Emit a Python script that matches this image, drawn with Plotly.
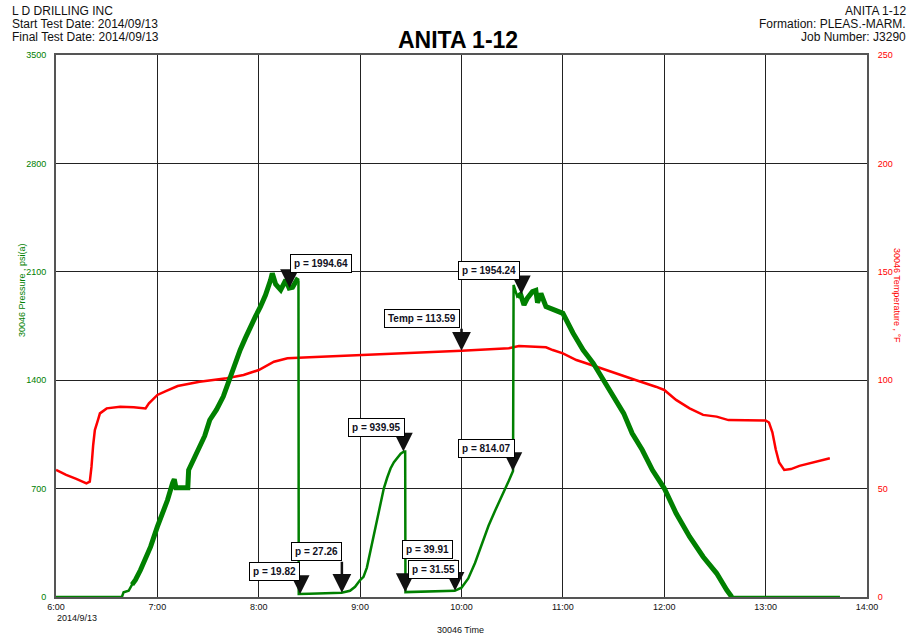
import plotly.graph_objects as go

DATE = "2014-09-13 "

# ---------------- data ----------------
pressure_time = [
    "06:00", "06:25", "06:39", "06:40", "06:43", "06:45", "06:47", "06:50", "06:53", "06:56",
    "07:00", "07:03", "07:06", "07:09", "07:10", "07:11", "07:18", "07:18:30", "07:21", "07:25",
    "07:28", "07:31", "07:35", "07:39", "07:43", "07:46", "07:49", "07:52", "07:55", "07:58",
    "08:01", "08:04", "08:07", "08:08", "08:10", "08:13", "08:16", "08:18", "08:20", "08:22:30",
    "08:23:30", "08:23:40", "08:30", "08:40", "08:49", "08:54", "08:57", "09:00", "09:02", "09:04",
    "09:06", "09:08", "09:10", "09:12", "09:14", "09:16", "09:18", "09:20", "09:22", "09:24",
    "09:26", "09:26:40", "09:26:50", "09:40", "09:56", "10:00", "10:04", "10:08", "10:12", "10:16",
    "10:20", "10:24", "10:28", "10:30:30", "10:30:50", "10:33", "10:35", "10:37", "10:39", "10:42",
    "10:44", "10:45", "10:47", "10:50", "10:55", "11:00", "11:06", "11:12", "11:18", "11:24",
    "11:30", "11:36", "11:41", "11:47", "11:53", "12:00", "12:07", "12:15", "12:23", "12:31",
    "12:37", "12:40", "13:44",
]
pressure_psi = [
    0, 0, 0, 30, 40, 80, 110, 174, 250, 325,
    454, 540, 626, 736, 760, 706, 706, 820, 880, 971,
    1040, 1143, 1210, 1294, 1423, 1500, 1595, 1670, 1746, 1810,
    1875, 1950, 2047, 2090, 2020, 1983, 2047, 1995, 2000, 2047,
    2040, 20, 21, 24, 27, 40, 66, 110, 130, 190,
    290, 400, 500, 610, 700, 770, 830, 870, 900, 925,
    940, 940, 31.5, 35, 40, 60, 120, 220, 340, 460,
    560, 650, 750, 814, 2015, 1940, 1954, 1886, 1930, 1972,
    1980, 1900, 1960, 1875, 1850, 1832, 1705, 1595, 1509, 1401,
    1294, 1186, 1057, 949, 820, 702, 541, 389, 260, 153,
    45, 0, 0,
]

temp_time = [
    "06:00", "06:06", "06:12", "06:18", "06:20", "06:21", "06:22", "06:23", "06:25", "06:26",
    "06:30", "06:38", "06:46", "06:53", "06:55", "06:57", "07:00", "07:05", "07:12", "07:25",
    "07:41", "07:51", "08:00", "08:09", "08:17", "08:30", "09:00", "09:30", "10:00", "10:28",
    "10:34", "10:50", "10:54", "11:00", "11:08", "11:20", "11:32", "11:43", "11:55", "12:00",
    "12:07", "12:15", "12:23", "12:31", "12:38", "12:50", "13:00", "13:02", "13:04", "13:06",
    "13:08", "13:11", "13:15", "13:20", "13:30", "13:38",
]
temp_f = [
    58.6, 56.3, 54.5, 52.4, 53.2, 60, 70, 77, 82, 84.7,
    87, 87.8, 87.5, 87, 89.3, 91, 93.2, 95, 97.3, 99.3,
    100.9, 102.4, 104.7, 108.5, 110.1, 110.6, 111.5, 112.6, 113.6, 114.7,
    115.8, 115.2, 113.9, 112.4, 109.3, 106.2, 103.2, 100.1, 97, 95.5,
    90.9, 87, 84, 83.2, 81.6, 81.6, 81.4, 80.5, 76, 68,
    62, 58.6, 59, 60.5, 62.5, 64,
]

# noisy (thick band) periods of the pressure record
noisy_periods = [("06:45", "08:23:30"), ("10:33", "12:40")]

# marker labels
p_label_time = ["08:18:12", "10:35:24", "09:25:36", "10:30:24", "08:49:12", "08:24:30", "09:56:12", "09:26:42"]
p_label_value = [1994.64, 1954.24, 939.95, 814.07, 27.26, 19.82, 39.91, 31.55]
t_label_time = ["10:00:00"]
t_label_value = [113.59]

x_tick_hours = ["06:00", "07:00", "08:00", "09:00", "10:00", "11:00", "12:00", "13:00", "14:00"]
x_tick_text = ["6:00", "7:00", "8:00", "9:00", "10:00", "11:00", "12:00", "13:00", "14:00"]
p_ticks = [0, 700, 1400, 2100, 2800, 3500]
t_ticks = [0, 50, 100, 150, 200, 250]


def norm(t):
    return t if t.count(":") == 2 else t + ":00"


def ts(t):
    return DATE + norm(t)


GREEN = "#008000"
RED = "#ff0000"
FONT = "Liberation Sans, Arial, sans-serif"
SMALL = "Liberation Sans, Arial, sans-serif"

fig = go.Figure()

# temperature (primary y, right side)
fig.add_trace(go.Scatter(
    x=[ts(t) for t in temp_time], y=temp_f, mode="lines",
    line=dict(color=RED, width=2.5), yaxis="y", hoverinfo="skip", showlegend=False))

# pressure (y2, left side, overlaying)
fig.add_trace(go.Scatter(
    x=[ts(t) for t in pressure_time], y=pressure_psi, mode="lines",
    line=dict(color=GREEN, width=2.5), yaxis="y2", hoverinfo="skip", showlegend=False))

thick_x, thick_y = [], []
for a, b in noisy_periods:
    for t, v in zip(pressure_time, pressure_psi):
        if norm(a) <= norm(t) <= norm(b):
            thick_x.append(ts(t))
            thick_y.append(v)
    thick_x.append(None)
    thick_y.append(None)
fig.add_trace(go.Scatter(
    x=thick_x, y=thick_y, mode="lines", connectgaps=False,
    line=dict(color=GREEN, width=5), yaxis="y2", hoverinfo="skip", showlegend=False))

# --------------- annotations ---------------
ann = []
# (arrow tail offset, box xanchor, box xshift, box yshift)
p_styles = [
    (-15, "left", 0, 15),
    (-14, "right", -1, 14),
    (-14, "right", 2, 14),
    (-13, "right", 2, 13),
    (-32, "right", 0, 32),
    (-13, "right", 0, 13),
    (-32, "right", -2, 32),
    (-13, "left", 3, 13),
]
t_styles = [(-23, "right", -2, 23)]


def add_marker(t, v, label, yref, style):
    ay, xa, xs, ys = style
    ann.append(dict(x=ts(t), y=v, xref="x", yref=yref, text=" ", showarrow=True,
                    ax=0, ay=ay, arrowhead=2, arrowsize=1.5, arrowwidth=2.5,
                    arrowcolor="#111111", standoff=0, startstandoff=0,
                    font=dict(size=1), borderpad=0))
    ann.append(dict(x=ts(t), y=v, xref="x", yref=yref, text="<b>" + label + "</b>",
                    showarrow=False, xanchor=xa, yanchor="bottom", xshift=xs, yshift=ys,
                    bgcolor="white", bordercolor="black", borderwidth=1, borderpad=3,
                    font=dict(family=FONT, size=10, color="#111122")))


for t, v, s in zip(p_label_time, p_label_value, p_styles):
    add_marker(t, v, "p = %.2f" % v, "y2", s)
for t, v, s in zip(t_label_time, t_label_value, t_styles):
    add_marker(t, v, "Temp = %.2f" % v, "y", s)

# header & titles
L, T, W, H = 56, 55, 811, 542


def px(x):
    return (x - L) / W


def py(y):
    return (T + H - y) / H


for i, txt in enumerate(["L D DRILLING INC", "Start Test Date: 2014/09/13", "Final Test Date: 2014/09/13"]):
    ann.append(dict(x=px(10), y=py(11 + 13 * i), xref="paper", yref="paper", text=txt,
                    showarrow=False, xanchor="left", yanchor="middle",
                    font=dict(family=FONT, size=12, color="#111111")))
for i, txt in enumerate(["ANITA 1-12", "Formation: PLEAS.-MARM.", "Job Number: J3290"]):
    ann.append(dict(x=px(908), y=py(11 + 13 * i), xref="paper", yref="paper", text=txt,
                    showarrow=False, xanchor="right", yanchor="middle",
                    font=dict(family=FONT, size=12, color="#111111")))

ann.append(dict(x=px(458), y=py(40), xref="paper", yref="paper", text="<b>ANITA 1-12</b>",
                showarrow=False, xanchor="center", yanchor="middle",
                font=dict(family=FONT, size=23, color="black")))
ann.append(dict(x=px(22), y=py(290), xref="paper", yref="paper", text="30046 Pressure , psi(a)",
                showarrow=False, textangle=-90, xanchor="center", yanchor="middle",
                font=dict(family=SMALL, size=9, color=GREEN)))
ann.append(dict(x=px(897), y=py(295), xref="paper", yref="paper", text="30046 Temperature , °F",
                showarrow=False, textangle=90, xanchor="center", yanchor="middle",
                font=dict(family=SMALL, size=9, color=RED)))
ann.append(dict(x=px(460), y=py(630), xref="paper", yref="paper", text="30046 Time",
                showarrow=False, xanchor="center", yanchor="middle",
                font=dict(family=SMALL, size=9, color="#111111")))
ann.append(dict(x=px(55), y=py(618), xref="paper", yref="paper", text="2014/9/13",
                showarrow=False, xanchor="left", yanchor="middle",
                font=dict(family=SMALL, size=9, color="#111111")))

fig.update_layout(
    width=913, height=639,
    margin=dict(l=L, r=913 - L - W, t=T, b=639 - T - H),
    paper_bgcolor="white", plot_bgcolor="white",
    showlegend=False,
    xaxis=dict(type="date", range=[ts("06:00"), ts("14:00")],
               tickvals=[ts(t) for t in x_tick_hours], ticktext=x_tick_text,
               showgrid=True, gridcolor="#222222", gridwidth=1,
               showline=True, linecolor="#555555", linewidth=2, mirror=True,
               ticks="", tickfont=dict(family=SMALL, size=9, color="#111111"),
               zeroline=False),
    yaxis=dict(range=[0, 250], side="right", tickvals=t_ticks,
               showgrid=True, gridcolor="#222222", gridwidth=1,
               showline=True, linecolor="#555555", linewidth=2, mirror=True,
               ticks="outside", ticklen=7, tickcolor="rgba(0,0,0,0)",
               tickfont=dict(family=SMALL, size=9, color=RED), zeroline=False),
    yaxis2=dict(range=[0, 3500], side="left", overlaying="y", tickvals=p_ticks,
                showgrid=False, showline=True, linecolor="#555555", linewidth=2,
                ticks="outside", ticklen=6, tickcolor="rgba(0,0,0,0)",
                tickfont=dict(family=SMALL, size=9, color=GREEN), zeroline=False),
    annotations=ann,
)

fig.write_html("out.html")
